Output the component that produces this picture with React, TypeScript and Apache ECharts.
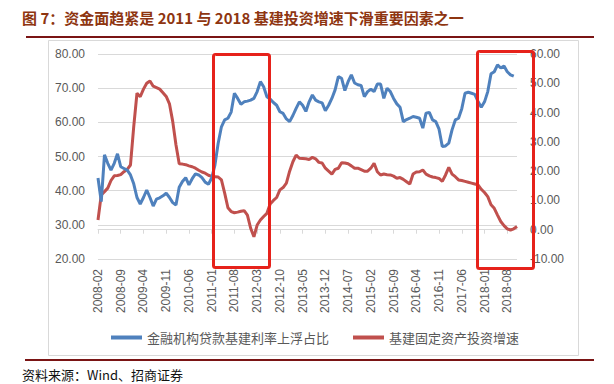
import React, { useEffect, useRef } from "react";
import * as echarts from "echarts";

const startYear = 2008;
const startMonth = 2;
const monthCount = 130;
const categories: string[] = [];
for (let i = 0; i < monthCount; i++) {
  const t = startMonth - 1 + i;
  const y = startYear + Math.floor(t / 12);
  const m = (t % 12) + 1;
  categories.push(`${y}-${m < 10 ? "0" + m : m}`);
}

const loanFloatShare: (number | null)[] = [
  43.7, 36.8, 50.5, 48.0, 46.0, 48.0, 50.8, 47.0, 46.5, 46.0,
  44.6, 42.0, 38.0, 36.1, 38.0, 40.2, 38.0, 35.5, 37.5, 37.9,
  38.5, 39.3, 38.0, 36.5, 35.8, 41.0, 42.7, 43.8, 41.7, 43.5,
  44.9, 44.6, 43.8, 42.5, 41.9, 43.7, 47.5, 53.9, 58.7, 60.7,
  61.2, 63.0, 68.5, 67.0, 65.3, 66.0, 66.2, 66.5, 67.0, 69.0,
  71.9, 70.4, 67.5, 66.8, 65.8, 65.0, 63.1, 62.6, 61.0, 60.2,
  62.0, 64.1, 66.0, 65.0, 63.2, 66.0, 68.0, 66.5, 66.0, 65.7,
  63.4, 65.0, 67.0, 69.5, 73.4, 72.9, 69.3, 71.9, 73.9, 71.5,
  71.0, 70.8, 67.5, 69.0, 69.7, 69.0, 71.2, 71.2, 67.0, 70.0,
  69.0, 67.0, 65.4, 64.4, 60.2, 60.8, 61.2, 61.7, 61.5, 61.2,
  58.3, 62.7, 62.9, 60.7, 60.2, 58.0, 52.9, 53.1, 53.9, 57.8,
  60.7, 61.2, 64.0, 68.5, 68.8, 68.5, 68.2, 66.1, 64.4, 66.0,
  69.0, 74.2, 74.8, 76.8, 75.9, 76.5, 74.8, 73.9, 73.5, null,
];

const infraInvestGrowth: number[] = [
  3.3, 11.9, 13.0, 14.2, 16.8, 18.4, 18.5, 18.8, 19.8, 20.6,
  22.1, 35.2, 46.6, 45.4, 48.0, 50.0, 50.8, 49.0, 48.5, 48.0,
  46.8, 45.5, 43.0, 37.0, 29.0, 22.5, 22.4, 22.2, 21.8, 21.5,
  21.0, 20.3, 19.7, 19.3, 18.6, 18.2, 18.1, 18.0, 17.0, 12.5,
  7.5, 6.2, 5.8, 6.0, 6.3, 6.5, 5.0, 0.5, -2.4, 1.6,
  3.3, 4.5, 5.6, 8.8, 10.0, 11.0, 13.6, 14.4, 15.9, 20.0,
  23.2, 25.5, 24.4, 24.3, 24.2, 24.0, 24.7, 24.2, 23.0, 22.8,
  21.0, 20.0, 19.0, 20.6, 21.0, 22.9, 22.8, 22.5, 21.8, 21.0,
  21.0, 20.5, 20.0, 20.0, 21.0, 22.7, 19.8, 18.7, 19.0, 18.8,
  18.7, 18.3, 17.6, 17.8, 17.2, 16.4, 15.6, 19.0, 19.7, 19.8,
  20.4, 19.0, 18.4, 18.0, 17.8, 17.5, 16.5, 18.7, 21.3, 19.0,
  18.1, 17.0, 16.8, 16.5, 16.2, 15.9, 15.6, 15.3, 13.8, 12.7,
  11.3, 8.5, 7.3, 5.0, 2.8, 1.4, 0.3, -0.1, 0.3, 1.1,
];

const seriesNames = ["金融机构贷款基建利率上浮占比", "基建固定资产投资增速"];
const titleText = "图 7：资金面趋紧是 2011 与 2018 基建投资增速下滑重要因素之一";
const sourceText = "资料来源：Wind、招商证券";

export default function App() {
  const ref = useRef<HTMLDivElement>(null);
  useEffect(() => {
    if (!ref.current) return;
    const chart = echarts.init(ref.current, undefined, { renderer: "svg" });
    const labelFont = "'Liberation Sans', Arial, sans-serif";
    const cjk = "'Noto Sans CJK SC', sans-serif";
    chart.setOption({
      animation: false,
      backgroundColor: "#ffffff",
      title: [
        {
          text: titleText,
          left: 22,
          top: 10,
          padding: 0,
          textStyle: {
            fontSize: 15,
            fontWeight: "bold",
            fontFamily: cjk,
            color: "#8E3510",
          },
        },
        {
          text: sourceText,
          left: 22,
          top: 368,
          padding: 0,
          textStyle: {
            fontSize: 13,
            fontWeight: "normal",
            fontFamily: cjk,
            color: "#111111",
          },
        },
      ],
      grid: { left: 98, right: 97, top: 54, bottom: 125, containLabel: false },
      legend: {
        left: 106,
        top: 326,
        itemWidth: 31,
        itemHeight: 4,
        itemGap: 24,
        icon: "rect",
        textStyle: { fontSize: 13, color: "#595959", fontFamily: cjk },
        data: seriesNames,
      },
      xAxis: {
        type: "category",
        data: categories,
        boundaryGap: false,
        axisLine: { lineStyle: { color: "#D9D9D9" } },
        axisTick: { interval: 6, length: 4, lineStyle: { color: "#D9D9D9" } },
        axisLabel: {
          interval: 6,
          rotate: 90,
          fontSize: 12,
          color: "#595959",
          fontFamily: labelFont,
          margin: 10,
        },
      },
      yAxis: [
        {
          type: "value",
          min: 20,
          max: 80,
          interval: 10,
          axisLine: { show: false },
          axisTick: { show: false },
          splitLine: { lineStyle: { color: "#D9D9D9" } },
          axisLabel: {
            formatter: (v: number) => v.toFixed(2),
            fontSize: 12,
            color: "#595959",
            fontFamily: labelFont,
            margin: 13,
          },
        },
        {
          type: "value",
          min: -10,
          max: 60,
          interval: 10,
          axisLine: { show: false },
          axisTick: { show: false },
          splitLine: { show: false },
          axisLabel: {
            formatter: (v: number) => v.toFixed(2),
            fontSize: 12,
            color: "#595959",
            fontFamily: labelFont,
            margin: 13,
          },
        },
      ],
      series: [
        {
          name: seriesNames[0],
          type: "line",
          yAxisIndex: 0,
          data: loanFloatShare,
          symbol: "none",
          itemStyle: { color: "#4F81BD" },
          lineStyle: { color: "#4F81BD", width: 3 },
          z: 3,
        },
        {
          name: seriesNames[1],
          type: "line",
          yAxisIndex: 1,
          data: infraInvestGrowth,
          symbol: "none",
          itemStyle: { color: "#C0504D" },
          lineStyle: { color: "#C0504D", width: 3 },
          z: 2,
        },
      ],
      graphic: [
        {
          type: "rect",
          left: 26,
          top: 36,
          z: 10,
          shape: { x: 0, y: 0, width: 568, height: 2 },
          style: { fill: "#7A1414" },
        },
        {
          type: "rect",
          left: 46,
          top: 38,
          z: -1,
          shape: { x: 0, y: 0, width: 530, height: 315 },
          style: { fill: "none", stroke: "#D9D9D9", lineWidth: 1 },
        },
        {
          type: "rect",
          left: 25,
          top: 359,
          z: 10,
          shape: { x: 0, y: 0, width: 569, height: 2 },
          style: { fill: "#7A1414" },
        },
        {
          type: "rect",
          left: 211,
          top: 52,
          z: 20,
          shape: { x: 0, y: 0, width: 56, height: 213, r: 2 },
          style: { fill: "none", stroke: "#E6221B", lineWidth: 3 },
        },
        {
          type: "rect",
          left: 475,
          top: 49,
          z: 20,
          shape: { x: 0, y: 0, width: 56, height: 217, r: 2 },
          style: { fill: "none", stroke: "#E6221B", lineWidth: 3 },
        },
      ],
    });
    return () => chart.dispose();
  }, []);
  return (
    <div
      ref={ref}
      style={{ position: "fixed", left: 0, top: 0, width: 614, height: 384 }}
    />
  );
}
